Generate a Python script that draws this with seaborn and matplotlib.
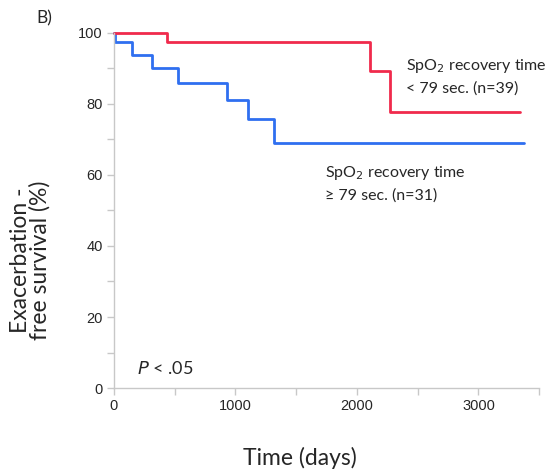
import numpy as np
import pandas as pd
import seaborn as sns
import matplotlib.pyplot as plt
from matplotlib.ticker import MultipleLocator

# step curves (days, % exacerbation-free)
short_days = [0, 434, 2105, 2270, 3340]
short_surv = [100.0, 97.4, 89.2, 77.8, 77.8]
long_days = [0, 8, 151, 316, 525, 932, 1102, 1317, 3375]
long_surv = [100.0, 97.5, 93.8, 90.1, 85.9, 81.1, 75.6, 69.1, 69.1]

x_ticks = [0, 1000, 2000, 3000]
y_ticks = [0, 20, 40, 60, 80, 100]

df = pd.concat([
    pd.DataFrame({"days": short_days, "surv": short_surv, "group": "short"}),
    pd.DataFrame({"days": long_days, "surv": long_surv, "group": "long"}),
])

sns.set_style("white")
plt.rcParams["font.family"] = ["Liberation Sans Narrow", "Liberation Sans", "DejaVu Sans"]

fig = plt.figure(figsize=(5.53, 4.75), dpi=100)
ax = fig.add_axes([0.206, 0.183, 0.769, 0.748])

palette = {"short": "#f02a4c", "long": "#2f6ff0"}
for g in ["long", "short"]:
    sub = df[df["group"] == g]
    sns.lineplot(data=sub, x="days", y="surv", ax=ax, color=palette[g],
                 drawstyle="steps-post", linewidth=2, estimator=None,
                 clip_on=False, legend=False)

ax.set_xlim(0, 3500)
ax.set_ylim(0, 100)
ax.set_xticks(x_ticks)
ax.set_yticks(y_ticks)
ax.xaxis.set_minor_locator(MultipleLocator(500))
ax.yaxis.set_minor_locator(MultipleLocator(10))
ax.tick_params(axis="both", which="both", direction="out", length=5, width=1,
               color="#c8c8c8", labelsize=10.5, left=True, bottom=True, pad=3)
ax.tick_params(which="minor", labelleft=False, labelbottom=False)

for s in ["top", "right"]:
    ax.spines[s].set_visible(False)
for s in ["left", "bottom"]:
    ax.spines[s].set_color("#c8c8c8")
    ax.spines[s].set_linewidth(1)

lab = ["Lato", "DejaVu Sans"]
ax.set_xlabel("Time (days)", fontsize=16.5, family=lab)
ax.set_ylabel("Exacerbation -\nfree survival (%)", fontsize=16.5, family=lab,
              linespacing=0.88)
ax.xaxis.set_label_coords(0.438, -0.166)
ax.yaxis.set_label_coords(-0.15, 0.36)

ax.text(2400, 87.8, "SpO$_2$ recovery time\n< 79 sec. (n=39)", fontsize=11.5,
        family=lab, va="center", ha="left", linespacing=1.55)
ax.text(1740, 57.5, "SpO$_2$ recovery time\n\u2265 79 sec. (n=31)", fontsize=11.5,
        family=lab, va="center", ha="left", linespacing=1.55)
ax.text(190, 5.5, "$P$ < .05", fontsize=13, family=lab, ha="left", va="center")
fig.text(0.065, 0.962, "B)", fontsize=12.5, family=lab, ha="left", va="center")

fig.savefig("out.png", dpi=100)
